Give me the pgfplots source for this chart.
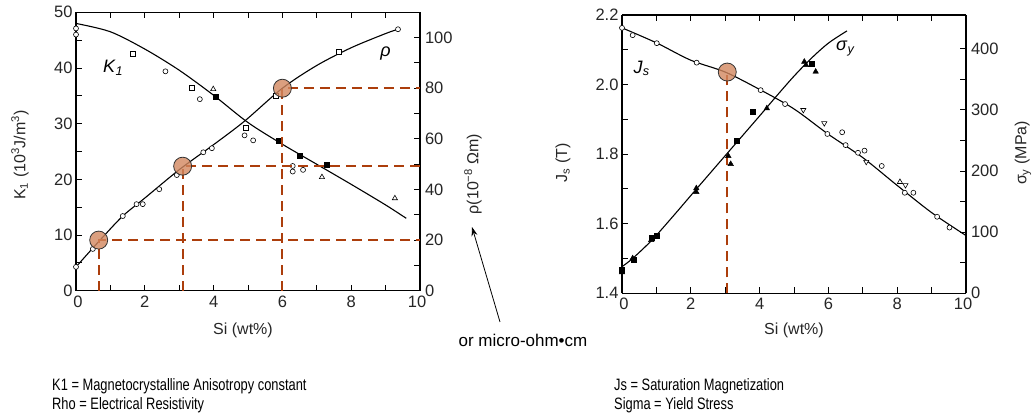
\documentclass[border=0pt]{standalone}
\usepackage{pgfplots}
\pgfplotsset{compat=1.18}
\usepackage{fontspec}
\setmainfont{Liberation Sans}
\usetikzlibrary{arrows.meta}
\definecolor{dashc}{RGB}{172,62,12}
\definecolor{circc}{RGB}{210,135,95}
\pgfplotsset{
  base/.style={scale only axis, width=344pt, xmin=0, xmax=10,
    tick align=inside, major tick length=6pt, minor tick length=6pt,
    every tick/.style={black, line width=0.9pt},
    axis line style={black, line width=1.1pt},
    ticklabel style={font=\fontsize{16.5}{18}\selectfont, text=black!85},
    /pgf/number format/assume math mode=true,
    clip=false,
  },
  xt/.style={xtick={0,2,...,10}, minor x tick num=1,
    xticklabels={\kern4pt 0, 2, 4, 6, 8, 10\kern6pt},
    xticklabel style={yshift=-1.5pt}},
  dat/.style={black, line width=1.1pt, smooth, tension=0.5, no markers},
  oc/.style={only marks, mark=*, mark size=2.5pt, mark options={draw=black, fill=white, line width=0.6pt}},
  os/.style={only marks, mark=square*, mark size=2.5pt, mark options={draw=black, fill=white, line width=0.6pt}},
  ot/.style={only marks, mark=triangle*, mark size=3pt, mark options={draw=black, fill=white, line width=0.6pt}},
  oit/.style={only marks, mark=triangle*, mark size=3pt, mark options={draw=black, fill=white, line width=0.6pt, rotate=180}},
  fs/.style={only marks, mark=square*, mark size=2.5pt, mark options={draw=black, fill=black}},
  ft/.style={only marks, mark=triangle*, mark size=3.2pt, mark options={draw=black, fill=black}},
  dsh/.style={dashc, line width=2pt, dash pattern=on 10pt off 6pt},
  hl/.style={only marks, mark=*, mark size=9pt, mark options={draw=black!80, fill=circc, fill opacity=0.8, line width=0.8pt}},
}
\newcommand{\narrow}[1]{\scalebox{0.78}[1]{#1}}
\begin{document}
\begin{tikzpicture}
\path[use as bounding box] (0pt,0pt) rectangle (1036pt,417pt);
% ---------------- left: K1 ----------------
\begin{axis}[base, xt, at={(76pt,126.3pt)}, anchor=south west, height=278.4pt,
  ymin=0, ymax=50, axis y line*=left,
  ytick={0,10,...,50}, minor y tick num=1]
\addplot[dat] coordinates {(0,48) (1,46.5) (2,43.4) (3,39.6) (4,35.1) (5,30.2) (6,26.3) (7,22.7) (8,19.1) (9,15.4) (9.6,13)};
\addplot[oc] coordinates {(0,47.1) (0,46.0) (2.6,39.4) (3.6,34.4) (4.9,27.9) (5.15,27.0) (6.3,22.4) (6.3,21.4) (6.6,21.7)};
\addplot[os] coordinates {(1.65,42.6) (3.36,36.4) (4.94,29.2)};
\addplot[ot] coordinates {(3.99,36.2) (7.15,20.4) (9.27,16.6)};
\addplot[fs] coordinates {(4.07,34.8) (5.9,27.0) (6.51,24.3) (7.3,22.6)};
\node[font=\fontsize{18}{20}\selectfont] at (axis cs:1.08,40) {\textit{K}\textsubscript{\textit{1}}};
\end{axis}
% ---------------- left: rho ----------------
\begin{axis}[base, at={(76pt,126.3pt)}, anchor=south west, height=278.4pt,
  ymin=0, ymax=110, axis y line*=right, axis x line=none,
  yticklabel style={xshift=1.5pt},
  ytick={0,20,...,100}, minor y tick num=1]
\addplot[dat] coordinates {(0,9.4) (0.7,20) (1.36,29.5) (2,36.6) (3,47.8) (4,57.7) (4.9,67) (6,80) (7,89) (8,96) (9,101.6) (9.36,103.3)};
\addplot[oc] coordinates {(0,9.4) (0.49,16.5) (1.36,29.5) (1.76,34.2) (1.94,34.2) (2.42,40.1) (2.93,45.7) (3.7,54.7) (3.95,56.3) (9.36,103.3)};
\addplot[os] coordinates {(5.81,77.2) (7.65,94.2)};
\addplot[dsh] coordinates {(0.66,0) (0.66,20) (10,20)};
\addplot[dsh] coordinates {(3.1,0) (3.1,49.2) (10,49.2)};
\addplot[dsh] coordinates {(6,0) (6,80) (10,80)};
\addplot[hl] coordinates {(0.66,20) (3.1,49.2) (6,80)};
\node[font=\fontsize{18}{20}\selectfont] at (axis cs:9.0,93.8) {\textit{ρ}};
\end{axis}
% ---------------- right: Js ----------------
\begin{axis}[base, xt, at={(622pt,123.7pt)}, anchor=south west, height=278.3pt,
  ymin=1.4, ymax=2.2, axis y line*=left,
  ytick={1.4,1.6,...,2.2}, minor y tick num=1,
  yticklabel style={/pgf/number format/.cd, fixed, fixed zerofill, precision=1}]
\addplot[dat] coordinates {(0,2.163) (1,2.12) (2,2.07) (3,2.036) (4,1.986) (5,1.93) (6,1.857) (7,1.79) (8,1.71) (9,1.632) (10,1.566)};
\addplot[oc] coordinates {(0,2.163) (0.31,2.142) (1.01,2.119) (2.17,2.063) (4.03,1.984) (4.74,1.944) (5.97,1.858) (6.5,1.826) (6.86,1.804) (8.22,1.689) (9.16,1.62) (9.52,1.589) (6.4,1.863) (7.05,1.81) (7.55,1.766) (8.47,1.689)};
\addplot[ot] coordinates {(8.08,1.72)};
\addplot[oit] coordinates {(5.27,1.927) (5.88,1.889) (7.1,1.778) (8.24,1.711)};
\addplot[dsh] coordinates {(3.05,1.4) (3.05,2.035)};
\addplot[hl] coordinates {(3.06,2.036)};
\node[font=\fontsize{18}{20}\selectfont] at (axis cs:0.57,2.047) {\textit{J}\textsubscript{\textit{s}}};
\end{axis}
% ---------------- right: sigma ----------------
\begin{axis}[base, at={(622pt,123.7pt)}, anchor=south west, height=278.3pt,
  ymin=0, ymax=455, axis y line*=right, axis x line=none,
  yticklabel style={xshift=1.5pt},
  ytick={0,100,...,400}, minor y tick num=1]
\addplot[dat] coordinates {(0,43.5) (0.31,57) (0.87,87) (1.5,127) (2.14,169) (3,225) (4,290) (4.5,323) (5,355) (5.5,384) (6,409) (6.54,429)};
\addplot[fs] coordinates {(0,38) (0.35,54.4) (0.85,91.5) (1.0,93.7) (3.34,249.5) (3.8,296.9) (5.5,376)};
\addplot[ft] coordinates {(0,34.3) (0.31,57.2) (0.85,87.1) (2.16,171.7) (2.16,165.6) (3.09,224.5) (3.16,211.4) (4.21,302.4) (5.3,378.6) (5.35,373.2) (5.63,362.3)};
\node[font=\fontsize{18}{20}\selectfont] at (axis cs:6.5,400) {\textit{σ}\textsubscript{\textit{y}}};
\end{axis}
% ---------------- labels ----------------
\begin{scope}[every node/.style={font=\fontsize{16}{18}\selectfont, text=black!85}]
\node[rotate=90] at (20pt,262pt) {K\textsubscript{1} (10\textsuperscript{3}J/m\textsuperscript{3})};
\node[rotate=90] at (473pt,243pt) {ρ(10\textsuperscript{−8} Ωm)};
\node[rotate=90] at (563pt,254pt) {J\textsubscript{s} (T)};
\node[rotate=90] at (1023pt,264pt) {σ\textsubscript{y} (MPa)};
\node at (243pt,87pt) {Si (wt\%)};
\node at (794pt,87pt) {Si (wt\%)};
\end{scope}
\node[font=\fontsize{17}{19}\selectfont] at (523pt,77pt) {or micro-ohm•cm};
\draw[-{Stealth[length=9pt,width=6pt]}, line width=0.8pt] (500pt,95pt) -- (472pt,190pt);
\begin{scope}[every node/.style={font=\fontsize{16.5}{18}\selectfont, anchor=west, inner sep=0pt}]
\node at (52pt,31pt) {\narrow{K1 = Magnetocrystalline Anisotropy constant}};
\node at (52pt,12pt) {\narrow{Rho = Electrical Resistivity}};
\node at (614pt,31pt) {\narrow{Js = Saturation Magnetization}};
\node at (614pt,12pt) {\narrow{Sigma = Yield Stress}};
\end{scope}
\end{tikzpicture}
\end{document}
